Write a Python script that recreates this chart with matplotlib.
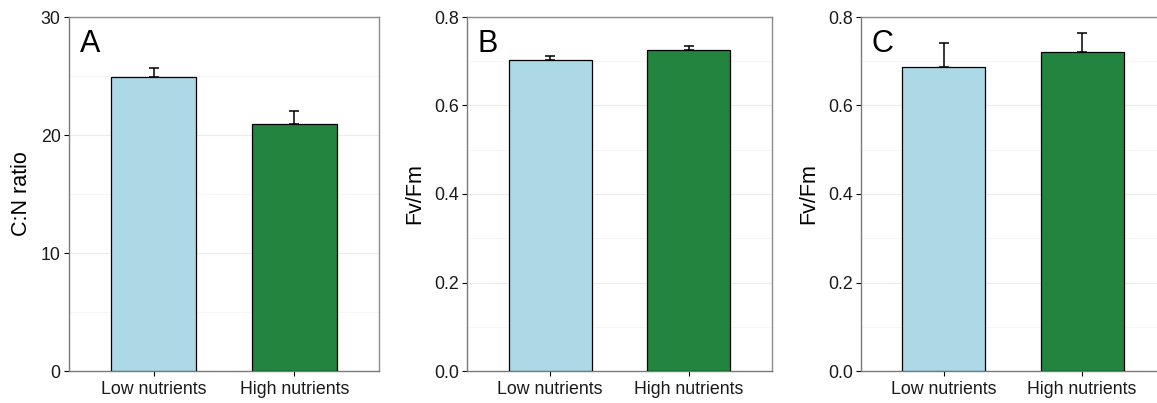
import matplotlib
matplotlib.use("Agg")
import matplotlib.pyplot as plt
from matplotlib.ticker import MultipleLocator

plt.rcParams['font.family'] = ['Liberation Sans', 'DejaVu Sans']

categories = ["Low nutrients", "High nutrients"]
bar_colors = ["#ADD8E6", "#23843F"]

cn_mean = [24.9, 20.9]
cn_se = [0.8, 1.1]

fvfm_b_mean = [0.702, 0.726]
fvfm_b_se = [0.010, 0.008]

fvfm_c_mean = [0.688, 0.721]
fvfm_c_se = [0.053, 0.043]

panels = [
    dict(letter="A", ylabel="C:N ratio", mean=cn_mean, se=cn_se,
         ylim=(0, 30), major=10, minor=5, fmt="{:.0f}"),
    dict(letter="B", ylabel="Fv/Fm", mean=fvfm_b_mean, se=fvfm_b_se,
         ylim=(0, 0.8), major=0.2, minor=0.1, fmt="{:.1f}"),
    dict(letter="C", ylabel="Fv/Fm", mean=fvfm_c_mean, se=fvfm_c_se,
         ylim=(0, 0.8), major=0.2, minor=0.1, fmt="{:.1f}"),
]

W, H = 1157, 403
fig = plt.figure(figsize=(W / 100, H / 100), dpi=100)

# panel rectangles in pixels: left, right, top, bottom
boxes = [(69, 379, 17, 371), (467, 772, 17, 371), (861, 1165, 17, 371)]

for p, (l, r, t, b) in zip(panels, boxes):
    ax = fig.add_axes([l / W, (H - b) / H, (r - l) / W, (b - t) / H])
    x = list(range(1, len(categories) + 1))
    ax.bar(x, p["mean"], width=0.6, color=bar_colors, edgecolor="black",
           linewidth=0.9, zorder=3)
    ax.errorbar(x, p["mean"], yerr=[[0] * len(x), p["se"]], fmt="none",
                ecolor="black", elinewidth=1.1, capsize=3.6, capthick=1.1,
                zorder=4)
    ax.set_xlim(0.4, 2.6)
    ax.set_ylim(*p["ylim"])
    ax.set_xticks(x)
    ax.set_xticklabels(categories)
    ax.yaxis.set_major_locator(MultipleLocator(p["major"]))
    ax.yaxis.set_minor_locator(MultipleLocator(p["minor"]))
    ax.set_yticklabels([p["fmt"].format(v) for v in ax.get_yticks()])
    ax.grid(axis="y", which="major", color="#EBEBEB", linewidth=0.8, zorder=0)
    ax.grid(axis="y", which="minor", color="#F5F5F5", linewidth=0.6, zorder=0)
    ax.tick_params(axis="y", which="minor", length=0)
    ax.tick_params(axis="both", which="major", length=3.5, width=0.8,
                   color="black", labelsize=12.8, labelcolor="#1A1A1A", pad=2.5)
    ax.tick_params(axis="x", which="major", pad=4)
    for side, sp in ax.spines.items():
        sp.set_color("#8C8C8C" if side in ("top", "right") else "#7A7A7A")
        sp.set_linewidth(1.0)
    ax.set_ylabel(p["ylabel"], fontsize=15.5, labelpad=6)
    ax.text(0.035, 0.965, p["letter"], transform=ax.transAxes, fontsize=22,
            ha="left", va="top", zorder=5)

fig.savefig("out.png", dpi=100)
